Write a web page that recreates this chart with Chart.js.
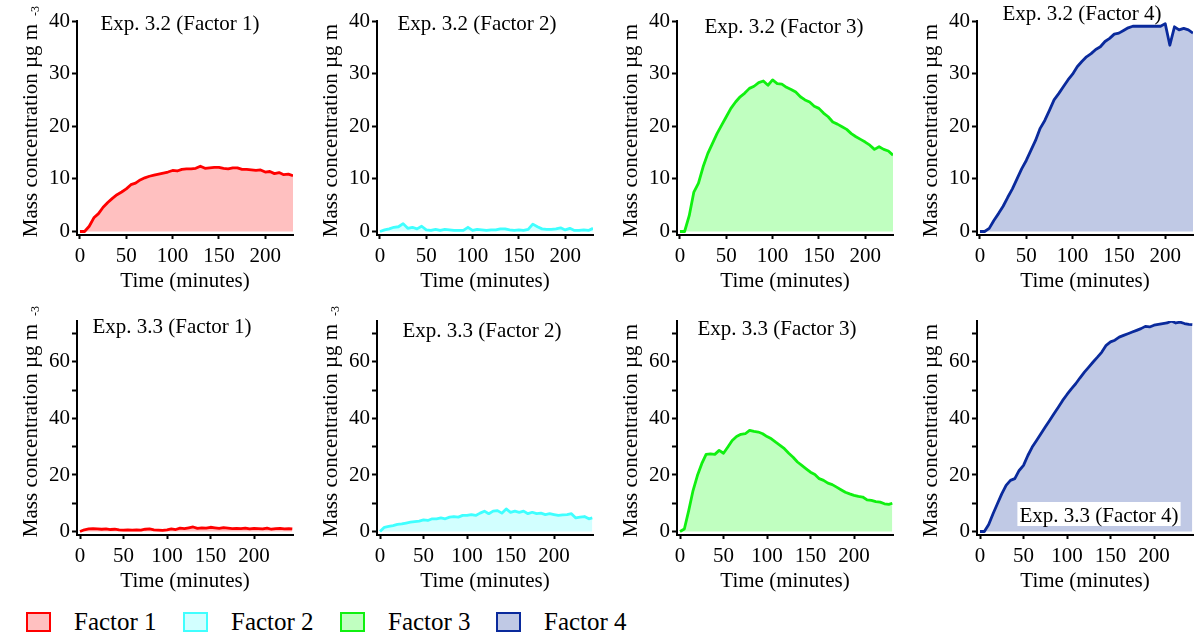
<!DOCTYPE html>
<html>
<head>
<meta charset="utf-8">
<script src="https://cdn.jsdelivr.net/npm/chart.js@4.4.1/dist/chart.umd.min.js"></script>
<style>
  body { margin: 0; background: #fff; width: 1194px; height: 641px; position: relative; overflow: hidden;
         font-family: 'Liberation Serif', 'Times New Roman', serif; }
  .panel { position: absolute; }
  .legend-item { position: absolute; top: 607px; height: 30px; display: flex; align-items: center;
                 font-size: 25px; color: #000; white-space: nowrap; }
  .legend-box { width: 21px; height: 16px; border: 2px solid; margin-right: 23px; }
</style>
</head>
<body>
<div id="legend"></div>
<script>
// time axes (minutes)
const timeExp32 = [0, 5, 10, 15, 20, 25, 30, 35, 40, 45, 50, 55, 60, 65, 70, 75, 80, 85, 90, 95, 100, 105, 110,
  115, 120, 125, 130, 135, 140, 145, 150, 155, 160, 165, 170, 175, 180, 185, 190, 195, 200, 205, 210, 215, 220, 225, 230];
const timeExp33 = [0, 5, 10, 15, 20, 25, 30, 35, 40, 45, 50, 55, 60, 65, 70, 75, 80, 85, 90, 95, 100, 105, 110,
  115, 120, 125, 130, 135, 140, 145, 150, 155, 160, 165, 170, 175, 180, 185, 190, 195, 200, 205, 210, 215, 220, 225,
  230, 235, 240, 244];

// mass concentration, µg m-3
const exp32Factor1 = [0, 0, 1.0, 2.6, 3.4, 4.6, 5.5, 6.3, 7.0, 7.5, 8.1, 8.9, 9.2, 9.8, 10.2, 10.5, 10.7, 10.9, 11.1,
  11.3, 11.6, 11.5, 11.8, 11.9, 11.9, 12.0, 12.4, 12.0, 12.1, 12.2, 12.2, 12.0, 11.9, 12.1, 12.1, 11.8, 11.8, 11.7,
  11.6, 11.7, 11.3, 11.4, 11.0, 11.2, 10.8, 10.9, 10.6];
const exp32Factor2 = [0, 0.3, 0.5, 0.8, 0.9, 1.5, 0.6, 0.8, 0.5, 1.0, 0.3, 0.2, 0.4, 0.2, 0.4, 0.3, 0.2, 0.2, 0.2,
  0.8, 0.2, 0.4, 0.3, 0.2, 0.3, 0.3, 0.5, 0.5, 0.3, 0.2, 0.3, 0.2, 0.4, 1.4, 0.9, 0.5, 0.4, 0.4, 0.5, 0.7, 0.3, 0.6,
  0.2, 0.2, 0.3, 0.2, 0.6];
const exp32Factor3 = [0, 0, 3.0, 7.5, 9.2, 12.3, 14.8, 16.7, 18.6, 20.2, 21.8, 23.4, 24.6, 25.6, 26.3, 27.2, 27.6,
  28.3, 28.6, 27.8, 28.8, 28.1, 28.0, 27.4, 27.0, 26.5, 25.6, 25.0, 24.6, 23.8, 23.4, 22.5, 21.8, 20.8, 20.4, 19.9,
  19.4, 18.6, 18.0, 17.5, 17.0, 16.4, 15.6, 16.1, 15.6, 15.3, 14.5];
const exp32Factor4 = [0, 0, 0.6, 2.1, 3.4, 4.8, 6.5, 8.1, 10.0, 11.9, 13.5, 15.4, 17.3, 19.6, 21.1, 23.0, 25.0,
  26.2, 27.5, 28.8, 29.9, 31.3, 32.3, 33.2, 33.8, 34.6, 35.1, 36.1, 36.7, 37.5, 37.7, 38.2, 38.7, 39.0, 39.0, 39.0,
  39.0, 39.0, 39.0, 39.0, 39.5, 35.4, 38.9, 38.3, 38.6, 38.3, 37.7];

const exp33Factor1 = [0, 0.6, 0.9, 1.0, 0.9, 0.8, 0.9, 0.7, 0.8, 0.6, 0.5, 0.6, 0.5, 0.6, 0.5, 0.8, 0.9, 0.6, 0.5,
  0.4, 0.6, 0.9, 0.7, 1.2, 1.0, 1.3, 1.6, 1.1, 1.3, 1.2, 1.5, 1.3, 1.1, 1.4, 1.2, 1.0, 1.1, 1.0, 1.2, 0.9, 1.1, 1.0,
  0.9, 1.2, 0.8, 1.0, 1.1, 0.9, 1.0, 0.9];
const exp33Factor2 = [0, 1.5, 1.8, 2.1, 2.5, 2.7, 3.0, 3.3, 3.5, 3.7, 4.1, 3.9, 4.5, 4.5, 4.8, 4.5, 5.1, 5.3, 5.1,
  5.7, 5.7, 6.0, 5.7, 6.5, 7.2, 6.3, 7.2, 7.4, 6.5, 8.0, 6.8, 7.2, 6.8, 7.2, 6.3, 6.8, 6.3, 6.5, 6.0, 6.3, 6.0, 5.7,
  5.9, 6.0, 6.3, 4.8, 5.1, 5.3, 4.5, 4.8];
const exp33Factor3 = [0, 0.9, 7.4, 14.5, 19.8, 24.0, 27.3, 27.5, 27.3, 28.7, 27.7, 29.9, 32.2, 33.6, 34.4, 34.6,
  35.8, 35.4, 35.2, 34.6, 33.6, 32.8, 31.6, 30.5, 29.3, 27.7, 26.3, 24.6, 23.4, 22.2, 21.0, 20.2, 18.7, 18.1, 17.1,
  16.6, 15.7, 14.8, 13.9, 13.3, 12.8, 12.4, 12.2, 11.2, 11.0, 10.6, 10.4, 9.8, 9.6, 10.0];
const exp33Factor4 = [0, 0, 2.5, 6.3, 9.8, 13.3, 16.3, 18.1, 18.7, 21.6, 23.4, 26.9, 29.9, 32.2, 34.6, 37.0, 39.3,
  41.7, 44.0, 46.4, 48.5, 50.5, 52.3, 54.4, 56.4, 58.2, 60.0, 61.7, 63.5, 65.9, 67.1, 67.7, 68.8, 69.4, 70.0, 70.6,
  71.2, 71.8, 72.6, 72.4, 73.0, 73.3, 73.6, 73.8, 74.5, 73.8, 74.1, 73.6, 73.3, 73.2];

const xTicks = [0, 50, 100, 150, 200];
const yTicksExp32 = [0, 10, 20, 30, 40];
const yTicksExp33 = [0, 10, 20, 30, 40, 50, 60, 70];

const factorNames = ['Factor 1', 'Factor 2', 'Factor 3', 'Factor 4'];
const lineColors = ['#ff0000', '#40ffff', '#10f010', '#0a2a9c'];
const fillColors = ['#ffc0c0', '#d2ffff', '#c0ffc0', '#c0c9e5'];

const FONT = "'Liberation Serif', 'Times New Roman', serif";
Chart.defaults.font.family = FONT;
Chart.defaults.color = '#000';

// per-row axis settings
const rows = [
  { time: timeExp32, xMin: -3.2, xMax: 230, yMin: -0.665, yMax: 40, yTicks: yTicksExp32, labelStep: 10 },
  { time: timeExp33, xMin: -3.45, xMax: 244.8, yMin: -1.24, yMax: 74.5, yTicks: yTicksExp33, labelStep: 20 }
];

const panels = [
  { row: 0, col: 0, f: 0, data: exp32Factor1, title: 'Exp. 3.2 (Factor 1)', tx: 180, ty: 30, sup: true },
  { row: 0, col: 1, f: 1, data: exp32Factor2, title: 'Exp. 3.2 (Factor 2)', tx: 177, ty: 30 },
  { row: 0, col: 2, f: 2, data: exp32Factor3, title: 'Exp. 3.2 (Factor 3)', tx: 184, ty: 33 },
  { row: 0, col: 3, f: 3, data: exp32Factor4, title: 'Exp. 3.2 (Factor 4)', tx: 182, ty: 20 },
  { row: 1, col: 0, f: 0, data: exp33Factor1, title: 'Exp. 3.3 (Factor 1)', tx: 172, ty: 33, sup: true },
  { row: 1, col: 1, f: 1, data: exp33Factor2, title: 'Exp. 3.3 (Factor 2)', tx: 182, ty: 37, sup: true },
  { row: 1, col: 2, f: 2, data: exp33Factor3, title: 'Exp. 3.3 (Factor 3)', tx: 177, ty: 35 },
  { row: 1, col: 3, f: 3, data: exp33Factor4, title: 'Exp. 3.3 (Factor 4)', tx: 199, ty: 222, boxed: true }
];

// y title, superscript and the in-plot title
const panelText = {
  id: 'panelText',
  afterDraw(chart, args, opts) {
    const ctx = chart.ctx;
    ctx.save();
    ctx.fillStyle = '#000';
    ctx.font = '21px ' + FONT;
    ctx.textBaseline = 'alphabetic';
    ctx.translate(37, 130.5);
    ctx.rotate(-Math.PI / 2);
    ctx.textAlign = 'center';
    ctx.fillText('Mass concentration µg m', 0, 0);
    ctx.restore();

    if (opts.sup) {
      ctx.save();
      ctx.fillStyle = '#000';
      ctx.font = '12px ' + FONT;
      ctx.translate(39, 16);
      ctx.rotate(-Math.PI / 2);
      ctx.textAlign = 'left';
      ctx.fillText('-3', 0, 0);
      ctx.restore();
    }

    ctx.save();
    ctx.font = '21px ' + FONT;
    ctx.textAlign = 'center';
    ctx.textBaseline = 'alphabetic';
    if (opts.boxed) {
      const w = ctx.measureText(opts.title).width;
      ctx.fillStyle = '#fff';
      ctx.fillRect(opts.tx - w / 2 - 2, opts.ty - 20, w + 4, 24);
    }
    ctx.fillStyle = '#000';
    ctx.fillText(opts.title, opts.tx, opts.ty);
    ctx.restore();
  }
};

panels.forEach(function (p) {
  const r = rows[p.row];
  const w = p.col === 3 ? 294 : 300;
  const div = document.createElement('div');
  div.className = 'panel';
  div.style.left = (p.col * 300) + 'px';
  div.style.top = (p.row * 300) + 'px';
  const canvas = document.createElement('canvas');
  canvas.width = w;
  canvas.height = 300;
  canvas.style.width = w + 'px';
  canvas.style.height = '300px';
  div.appendChild(canvas);
  document.body.appendChild(div);

  new Chart(canvas.getContext('2d'), {
    type: 'line',
    data: {
      datasets: [{
        label: factorNames[p.f],
        data: r.time.map((t, i) => ({ x: t, y: p.data[i] })),
        borderColor: lineColors[p.f],
        backgroundColor: fillColors[p.f],
        borderWidth: 2.8,
        pointRadius: 0,
        tension: 0,
        fill: 'origin',
        borderJoinStyle: 'round'
      }]
    },
    options: {
      responsive: false,
      animation: false,
      devicePixelRatio: 1,
      layout: { padding: { top: 21, right: w - 293, bottom: 0, left: 0 } },
      plugins: {
        legend: { display: false },
        tooltip: { enabled: false },
        panelText: { title: p.title, tx: p.tx, ty: p.ty, sup: !!p.sup, boxed: !!p.boxed }
      },
      scales: {
        x: {
          type: 'linear',
          min: r.xMin,
          max: r.xMax,
          afterBuildTicks: s => { s.ticks = xTicks.map(v => ({ value: v })); },
          afterFit: s => { s.height = 65; },
          ticks: { font: { size: 21 }, color: '#000', padding: 5, maxRotation: 0, autoSkip: false },
          grid: { drawOnChartArea: false, tickLength: 4, tickColor: '#000', tickWidth: 2 },
          border: { color: '#000', width: 2 },
          title: { display: true, text: 'Time (minutes)', font: { size: 21 }, color: '#000',
                   padding: { top: 0, bottom: 6 } }
        },
        y: {
          min: r.yMin,
          max: r.yMax,
          afterBuildTicks: s => { s.ticks = r.yTicks.map(v => ({ value: v })); },
          afterFit: s => { s.width = 77; },
          ticks: {
            font: { size: 21 }, color: '#000', padding: 2, autoSkip: false,
            callback: v => (v % r.labelStep === 0 ? v : '')
          },
          grid: { drawOnChartArea: false, tickLength: 5, tickColor: '#000', tickWidth: 2 },
          border: { color: '#000', width: 2 }
        }
      }
    },
    plugins: [panelText]
  });
});

// legend
const legend = document.getElementById('legend');
const legendLeft = [26, 183, 340, 496];
factorNames.forEach(function (name, i) {
  const item = document.createElement('div');
  item.className = 'legend-item';
  item.style.left = legendLeft[i] + 'px';
  item.innerHTML = '<div class="legend-box" style="border-color:' + lineColors[i] +
    ';background:' + fillColors[i] + '"></div><span>' + name + '</span>';
  legend.appendChild(item);
});
</script>
</body>
</html>
